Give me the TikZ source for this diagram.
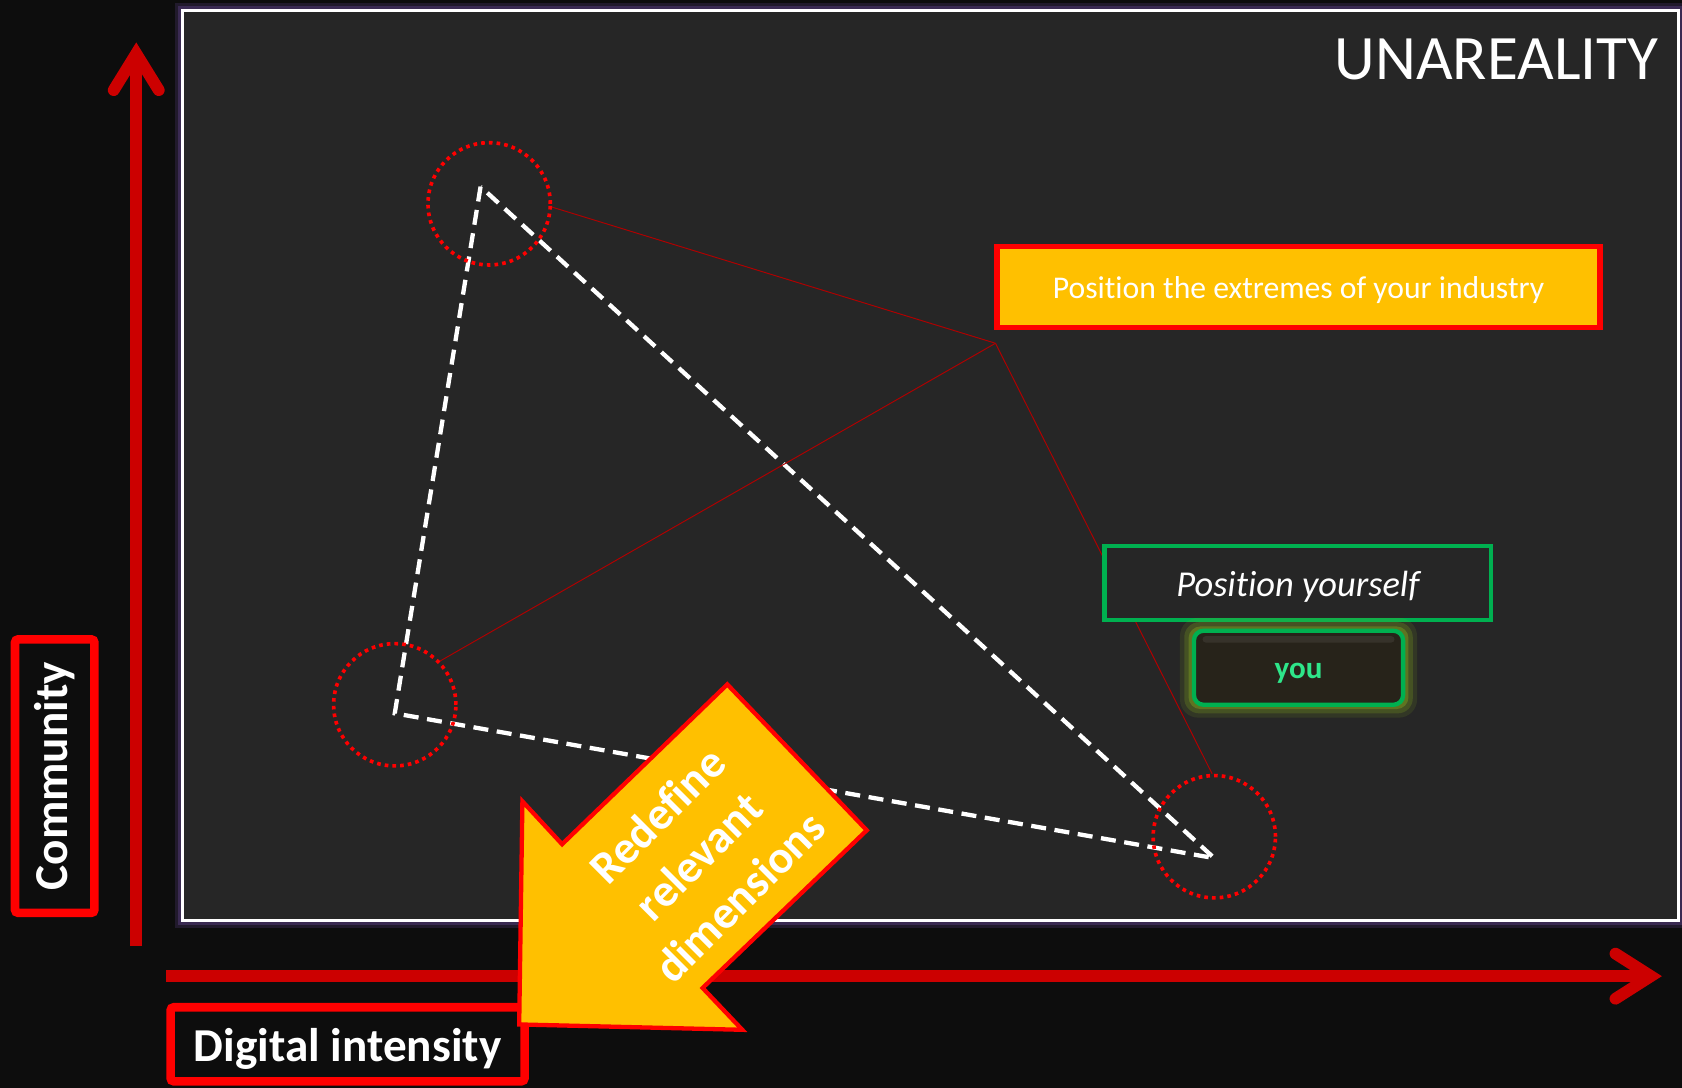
\documentclass[tikz,border=0pt]{standalone}
\usepackage{fontspec}
\setmainfont{Carlito}[Ligatures=NoCommon]
\usetikzlibrary{calc}
\definecolor{bgc}{HTML}{0D0D0D}
\definecolor{panelc}{HTML}{262626}
\definecolor{axisred}{HTML}{CC0000}
\definecolor{brightred}{HTML}{FF0000}
\definecolor{thinred}{HTML}{B00000}
\definecolor{gold}{HTML}{FFC000}
\definecolor{greenc}{HTML}{00B050}
\definecolor{youtext}{HTML}{2EE68A}
\definecolor{glowp}{HTML}{3A2A52}
\definecolor{glowy}{HTML}{8DB51F}
\definecolor{btnfill}{HTML}{27231A}
\tikzset{
  axisline/.style={draw=axisred, line width=11pt},
  axishead/.style={draw=axisred, line width=11pt, line cap=round, line join=miter},
  ring/.style={circle, draw=brightred, line width=3.4pt, dash pattern=on 3.4pt off 3.8pt, minimum size=114pt, inner sep=0pt},
  thinlink/.style={draw=thinred, line width=0.9pt},
  tri/.style={draw=white, line width=4pt, dash pattern=on 14pt off 8pt, line join=miter},
  labelbox/.style={draw=brightred, line width=8pt, fill=bgc, rounded corners=3pt, text=white, font=\bfseries\fontsize{44}{44}\selectfont, inner sep=0pt},
}
\begin{document}
\begin{tikzpicture}[x=1pt,y=-1pt]
\useasboundingbox (0,0) rectangle (1568,1014);
\fill[bgc] (0,0) rectangle (1568,1014);
% panel glow and panel
\draw[glowp, opacity=0.45, line width=14pt] (170,10) rectangle (1565,858);
\draw[glowp, line width=8pt] (170,10) rectangle (1565,858);
\draw[white, line width=3pt, fill=panelc] (170,10) rectangle (1565,858);
% title
\node[anchor=base east, inner sep=0pt, text=white, font=\fontsize{59}{59}\selectfont] (title) at (1546,74) {UNAREALITY};
% axes
\coordinate (vstart) at (127,882);
\coordinate (vtip) at (127,50);
\draw[axisline] (vstart) -- (vtip);
\draw[axishead] ($(vtip)+(-21,34)$) -- (vtip) -- ($(vtip)+(21,34)$);
\coordinate (hstart) at (155,910);
\coordinate (htip) at (1539,910);
\draw[axisline] (hstart) -- (htip);
\draw[axishead] ($(htip)+(-33,-21)$) -- (htip) -- ($(htip)+(-33,21)$);
% triangle
\coordinate (A) at (448,174);
\coordinate (B) at (368,665);
\coordinate (C) at (1132,800);
\draw[tri] (A) -- (B) -- (C) -- cycle;
% circles
\node[ring] (c1) at (456,190) {};
\node[ring] (c2) at (368,657) {};
\node[ring] (c3) at (1132,780) {};
\coordinate (p) at (928,320);
\draw[thinlink] (c1.-3) -- (p);
\draw[thinlink] (p) -- (c2.44);
\draw[thinlink] (p) -- (c3.92);
% boxes
\node[draw=brightred, line width=5pt, fill=gold, minimum width=562pt, minimum height=76pt, inner sep=0pt, text height=24pt, text depth=3pt, text=white, font=\fontsize{29.5}{29.5}\selectfont] (extremes) at (1210.5,267.5) {Position the extremes of your industry};
\node[draw=greenc, line width=4.5pt, fill=panelc, minimum width=360pt, minimum height=69pt, inner sep=0pt, text height=28pt, text depth=3.5pt, text=white, font=\itshape\fontsize{34}{34}\selectfont] (yourself) at (1210,543.5) {Position yourself};
% you button glow
\fill[glowy, opacity=0.12, rounded corners=17pt] (1100,576) rectangle (1321,669);
\fill[glowy, opacity=0.22, rounded corners=14pt] (1104,580) rectangle (1317,665);
\fill[glowy, opacity=0.35, rounded corners=11pt] (1108,584) rectangle (1313,661);
\node[draw=greenc, line width=4pt, fill=btnfill, rounded corners=9pt, minimum width=195pt, minimum height=69pt, inner sep=0pt, text height=22pt, text depth=2pt, text=youtext, font=\bfseries\fontsize{29}{29}\selectfont] (you) at (1210.5,622.5) {you};
\fill[white, opacity=0.07, rounded corners=3pt] (1121,593) rectangle (1300,599);
% axis labels
\node[labelbox, rotate=90, minimum width=255pt, minimum height=74pt] (community) at (51,723.5) {Community};
\node[labelbox, minimum width=330pt, minimum height=69pt, text height=36pt, text depth=4pt] (digital) at (324,973.5) {Digital intensity};
% big arrow
\draw[draw=brightred, line width=4pt, fill=gold, line join=miter]
  (678,638) -- (808,774) -- (655,921) -- (692,960) -- (484,955) -- (487,747) -- (524,787) -- cycle;
\node[rotate=45, align=center, text=white, font=\bfseries\fontsize{43}{54}\selectfont] (redefine) at (651,798) {Redefine\\relevant\\dimensions};
\end{tikzpicture}
\end{document}
